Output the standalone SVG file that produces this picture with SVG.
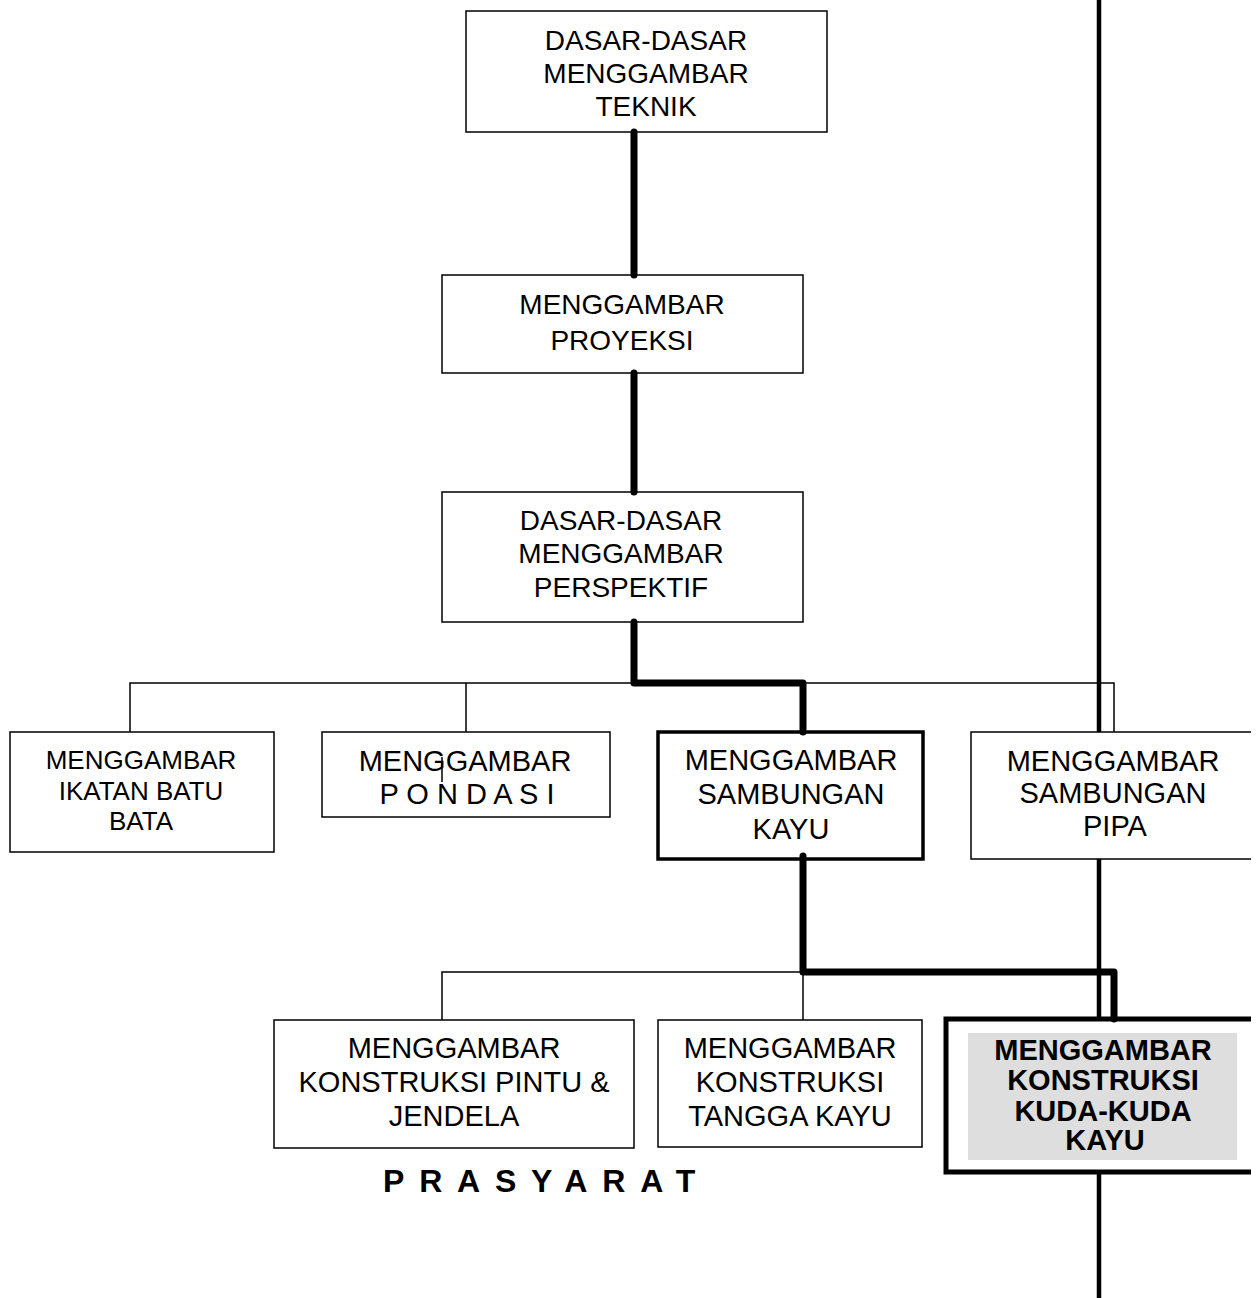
<svg xmlns="http://www.w3.org/2000/svg" width="1260" height="1298" viewBox="0 0 1260 1298">
<style>
.box{fill:#fff;stroke:#000;stroke-width:1.5}
.boxb{fill:#fff;stroke:#000;stroke-width:3.5}
.open{fill:#fff;stroke:#000;stroke-width:1.5}
.openb{fill:#fff;stroke:#000;stroke-width:5}
.thin{fill:none;stroke:#000;stroke-width:1.5}
.thick{fill:none;stroke:#000;stroke-width:7;stroke-linecap:round;stroke-linejoin:round}
.spine{fill:none;stroke:#000;stroke-width:4.5}
text{font-family:"Liberation Sans",Arial,sans-serif;fill:#000;text-anchor:middle}
.t28{font-size:28px}
.t29{font-size:29px}
.t26{font-size:26px}
.b29{font-size:29px;font-weight:bold}
.title{font-size:32px;font-weight:bold;text-anchor:start;letter-spacing:14.8px}
</style>
<rect width="1260" height="1298" fill="#fff"/>
<g id="spine"><line class="spine" x1="1099" y1="0" x2="1099" y2="1298"/></g>
<g id="n1"><rect class="box" x="466" y="11" width="361" height="121"/>
<text class="t28" x="646" y="50">DASAR-DASAR</text><text class="t28" x="646" y="83">MENGGAMBAR</text><text class="t28" x="646" y="116">TEKNIK</text></g>
<g id="n2"><rect class="box" x="442" y="275" width="361" height="98"/>
<text class="t28" x="622" y="314">MENGGAMBAR</text><text class="t28" x="622" y="350">PROYEKSI</text></g>
<g id="n3"><rect class="box" x="442" y="492" width="361" height="130"/>
<text class="t28" x="621" y="530">DASAR-DASAR</text><text class="t28" x="621" y="563">MENGGAMBAR</text><text class="t28" x="621" y="597">PERSPEKTIF</text></g>
<g id="n4"><rect class="box" x="10" y="732" width="264" height="120"/>
<text class="t26" x="141" y="769">MENGGAMBAR</text><text class="t26" x="141" y="800">IKATAN BATU</text><text class="t26" x="141" y="830">BATA</text></g>
<g id="n5"><rect class="box" x="322" y="732" width="288" height="85"/>
<text class="t29" x="465" y="771">MENGGAMBAR</text><text class="t29" x="467" y="804">P O N D A S I</text>
<line class="thin" x1="442" y1="757" x2="442" y2="782"/></g>
<g id="n6"><rect class="boxb" x="658" y="732" width="265" height="127"/>
<text class="t29" x="791" y="770">MENGGAMBAR</text><text class="t29" x="791" y="804">SAMBUNGAN</text><text class="t29" x="791" y="839">KAYU</text></g>
<g id="n7"><path class="open" d="M1251,732 H971 V859 H1251"/>
<text class="t29" x="1113" y="771">MENGGAMBAR</text><text class="t29" x="1113" y="803">SAMBUNGAN</text><text class="t29" x="1115" y="836">PIPA</text></g>
<g id="n8"><rect class="box" x="274" y="1020" width="360" height="128"/>
<text class="t29" x="454" y="1058">MENGGAMBAR</text><text class="t29" x="454" y="1092">KONSTRUKSI PINTU &amp;</text><text class="t29" x="454" y="1126">JENDELA</text></g>
<g id="n9"><rect class="box" x="658" y="1020" width="264" height="127"/>
<text class="t29" x="790" y="1058">MENGGAMBAR</text><text class="t29" x="790" y="1092">KONSTRUKSI</text><text class="t29" x="790" y="1126">TANGGA KAYU</text></g>
<g id="n10"><path class="openb" d="M1251,1019 H946 V1172 H1251"/>
<rect x="968" y="1033" width="269" height="127" fill="#dedede"/>
<text class="b29" x="1103" y="1060">MENGGAMBAR</text><text class="b29" x="1103" y="1090">KONSTRUKSI</text><text class="b29" x="1103" y="1121">KUDA-KUDA</text><text class="b29" x="1105" y="1150">KAYU</text></g>
<g id="connectors">
<path class="thin" d="M130,732 V683 H1114 V732 M466,683 V732"/>
<path class="thin" d="M442,1020 V972 H803 V1020"/>
<path class="thick" d="M634,132 V275"/>
<path class="thick" d="M634,373 V492"/>
<path class="thick" d="M634,622 V683 H803 V732"/>
<path class="thick" d="M803,856 V972 H1114 V1019"/>
</g>
<g id="label"><text class="title" x="383" y="1192">PRASYARAT</text></g>
</svg>
